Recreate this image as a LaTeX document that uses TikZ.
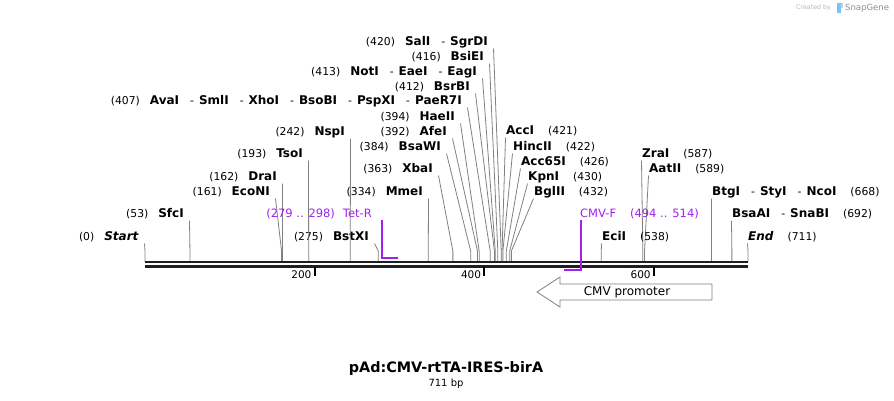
\documentclass[tikz,border=0pt]{standalone}
\usepackage{fontspec}
\setmainfont{DejaVu Sans}
\usetikzlibrary{calc}

\definecolor{primerpurple}{RGB}{160,32,240}
\definecolor{cutgray}{RGB}{128,128,128}
\definecolor{sgblue}{RGB}{120,195,240}
\newcommand{\pos}[1]{{\mdseries\upshape\fontsize{10.8}{12}\selectfont(#1)}}
\newcommand{\enzsep}{\hspace{11pt}{\mdseries\fontsize{10.8}{12}\selectfont -}\hspace{5pt}}

\begin{document}
\begin{tikzpicture}[x=1pt,y=-1pt,
    enzlbl/.style={inner sep=0pt, font=\fontsize{12}{14}\selectfont\bfseries},
    cutline/.style={draw=cutgray, line width=0.8pt},
    backbone/.style={draw=black!88, line width=2.5pt},
    tick/.style={draw=black, line width=2pt},
    ticklbl/.style={inner sep=0pt, font=\fontsize{10.5}{12}\selectfont},
    primer/.style={draw=primerpurple, line width=2pt},
    primerlbl/.style={inner sep=0pt, text=primerpurple, font=\fontsize{11.5}{13}\selectfont},
    feature/.style={draw=black!50, fill=white, line width=0.8pt},
    featlbl/.style={inner sep=0pt, font=\fontsize{12}{14}\selectfont}]

    \useasboundingbox (0,0) rectangle (894,400);

    % Define map dimensions
    \def\xo{145} % x of base 0
    \def\bpx{0.8481} % pixels per base
    \def\basey{262} % y of the upper backbone line
    \def\seqlen{711} % length of the sequence

    % --- Cut sites with labels on the left ---
    \foreach \bp/\yy/\xr/\txt in {420/42/488/{SalI\enzsep SgrDI},
                                  416/57/484/{BsiEI},
                                  413/72/477/{NotI\enzsep EaeI\enzsep EagI},
                                  412/87/470/{BsrBI},
                                  407/101/462/{AvaI\enzsep SmlI\enzsep XhoI\enzsep BsoBI\enzsep PspXI\enzsep PaeR7I},
                                  394/117/455/{HaeII},
                                  392/132/447/{AfeI},
                                  384/147/441/{BsaWI},
                                  363/169/433/{XbaI},
                                  334/192/423/{MmeI},
                                  275/237/369/{BstXI},
                                  242/132/345/{NspI},
                                  193/154/303/{TsoI},
                                  162/177/277/{DraI},
                                  161/192/270/{EcoNI},
                                  53/214/184/{SfcI},
                                  0/237/139/{\textit{Start}}} {
        \coordinate (c\bp) at ({\xo+\bp*\bpx},\basey);
        \node[enzlbl, anchor=east] (l\bp) at (\xr,\yy) {\pos{\bp}\hspace{10pt}\txt};
        \draw[cutline] ([shift={(5.5pt,-6.5pt)}]l\bp.east) -- ([yshift=11pt]c\bp) -- (c\bp);
    }

    % --- Cut sites with labels on the right ---
    \foreach \bp/\yy/\xl/\txt in {421/131/506/{AccI},
                                  422/147/513/{HincII},
                                  426/162/521/{Acc65I},
                                  430/177/528/{KpnI},
                                  432/192/534/{BglII},
                                  587/154/642/{ZraI},
                                  589/169/649/{AatII},
                                  668/192/712/{BtgI\enzsep StyI\enzsep NcoI},
                                  692/214/732/{BsaAI\enzsep SnaBI},
                                  538/237/602/{EciI},
                                  711/237/748/{\textit{End}}} {
        \coordinate (c\bp) at ({\xo+\bp*\bpx},\basey);
        \node[enzlbl, anchor=west] (r\bp) at (\xl,\yy) {\txt\hspace{14pt}\pos{\bp}};
        \draw[cutline] ([shift={(-0.5pt,-6.5pt)}]r\bp.west) -- ([yshift=11pt]c\bp) -- (c\bp);
    }

    % --- Backbone (double line) ---
    \coordinate (start) at (\xo,\basey);
    \coordinate (end) at ({\xo+\seqlen*\bpx},\basey);
    \draw[backbone] (start) -- (end);
    \draw[backbone] ([yshift=-4.5pt]start) -- ([yshift=-4.5pt]end);

    % Ruler ticks below the backbone
    \foreach \t in {200,400,600} {
        \coordinate (t\t) at ({\xo+\t*\bpx},267);
        \draw[tick] (t\t) -- ++(0,9);
        \node[ticklbl, anchor=east] (tl\t) at ([shift={(-3pt,-7.5pt)}]t\t) {\t};
    }

    % --- Primers ---
    \coordinate (p279) at ({\xo+279*\bpx},220);
    \coordinate (p298) at ({\xo+298*\bpx},258);
    \node[primerlbl, anchor=east] (tetR) at (372,214) {(279 .. 298)\hspace{8pt}Tet-R};
    \draw[primer] (p279) |- (p298);

    \coordinate (p514) at ({\xo+514*\bpx},220);
    \coordinate (p494) at ({\xo+494*\bpx},270);
    \node[primerlbl, anchor=west] (cmvF) at (580,214) {CMV-F\hspace{14pt}(494 .. 514)};
    \draw[primer] (p514) |- (p494);

    % --- Feature: CMV promoter (reverse) ---
    \draw[feature] (712,284) -- (560,284) -- (560,277) -- (537,292) -- (560,307) -- (560,300) -- (712,300) -- cycle;
    \node[featlbl] (cmvprom) at (627,292) {CMV promoter};

    % --- Title ---
    \node[inner sep=0pt, font=\fontsize{14.4}{17}\selectfont\bfseries] (title) at (446,369) {pAd:CMV-rtTA-IRES-birA};
    \node[inner sep=0pt, font=\fontsize{10}{12}\selectfont] (size) at (446,384) {711 bp};

    % Watermark
    \node[inner sep=0pt, anchor=west, text=black!28, font=\fontsize{6.3}{7}\selectfont] (made) at (796,8) {Created by};
    \fill[sgblue] (837,3) rectangle (840.5,13);
    \fill[sgblue!60] (840.5,3) rectangle (843,8);
    \node[inner sep=0pt, anchor=west, text=black!45, font=\fontsize{8.5}{10}\selectfont] (snapgene) at (845,8) {SnapGene};
\end{tikzpicture}
\end{document}
